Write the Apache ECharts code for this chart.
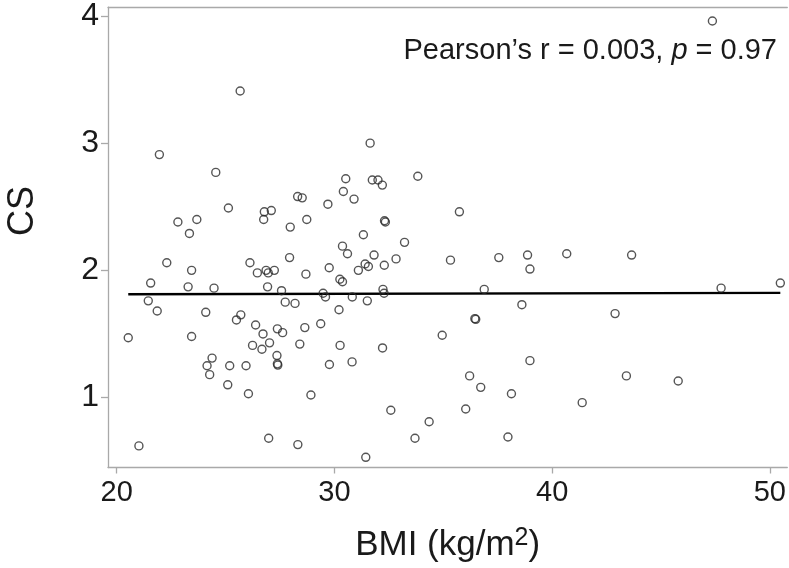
<!DOCTYPE html>
<html>
<head>
<meta charset="utf-8">
<script src="https://cdn.jsdelivr.net/npm/echarts@6/dist/echarts.min.js"></script>
<style>
html,body{margin:0;padding:0;background:#fff;}
#chart{width:789px;height:568px;}
</style>
</head>
<body>
<div id="chart"></div>
<script>
// BMI (kg/m2) values
const bmi = [
  25.67, 21.96, 24.55, 30.52, 30.41, 22.81, 23.68, 23.34, 25.13, 26.75,
  26.78, 27.10, 27.97, 28.31, 28.52, 28.73, 29.70,
  31.64, 30.90, 31.74, 32.00, 32.20, 33.83, 35.74, 32.30, 32.34, 31.33,
  33.22, 47.36,
  30.37, 30.60, 22.30, 23.44, 26.12, 26.46, 26.86, 26.96, 27.24, 27.94,
  28.69, 29.76, 30.25, 30.37, 21.56, 23.28, 24.47, 26.93, 27.57, 29.48,
  29.59, 21.45, 21.86, 27.74, 28.19, 24.09, 25.70, 25.50, 30.21, 20.53,
  23.44, 26.38, 26.72, 27.38, 27.62, 28.64, 29.37, 27.02, 26.24, 26.67,
  28.41, 30.26, 24.38, 24.15, 25.19, 25.94, 27.36, 27.38, 27.40, 24.27,
  29.77, 25.10, 26.05, 28.92, 26.98, 28.32, 21.02,
  31.82, 31.41, 31.56, 32.29, 32.83, 35.33, 37.55, 38.87, 38.98, 40.67,
  31.10, 32.23, 32.28, 36.88, 30.82, 31.51, 38.61, 36.45, 36.49, 34.95,
  32.21, 30.81, 38.98, 36.21, 36.72, 38.13, 32.59, 36.03, 34.35, 33.70,
  37.97, 31.44,
  43.65, 47.76, 50.48, 42.89, 43.41, 45.79, 41.38
];
// CS values (same order)
const cs = [
  3.41, 2.91, 2.77, 2.72, 2.62, 2.38, 2.40, 2.29, 2.49, 2.40,
  2.46, 2.47, 2.34, 2.58, 2.57, 2.40, 2.52,
  3.00, 2.56, 2.71, 2.71, 2.67, 2.74, 2.46, 2.39, 2.38, 2.28,
  2.22, 3.96,
  2.19, 2.13, 2.06, 2.00, 2.06, 1.98, 2.00, 1.98, 2.00, 2.10,
  1.97, 2.02, 1.93, 1.91, 1.90, 1.87, 1.86, 1.87, 1.84, 1.82,
  1.79, 1.76, 1.68, 1.75, 1.74, 1.67, 1.65, 1.61, 1.69, 1.47,
  1.48, 1.57, 1.50, 1.54, 1.51, 1.55, 1.58, 1.43, 1.41, 1.38,
  1.42, 1.41, 1.31, 1.25, 1.25, 1.25, 1.33, 1.265, 1.255, 1.18,
  1.26, 1.10, 1.03, 1.02, 0.68, 0.63, 0.62,
  2.12, 2.05, 2.03, 2.04, 2.09, 2.08, 2.10, 2.12, 2.01, 2.13,
  2.00, 1.85, 1.82, 1.85, 1.79, 1.76, 1.73, 1.62, 1.615, 1.49,
  1.39, 1.28, 1.29, 1.17, 1.08, 1.03, 0.90, 0.91, 0.81, 0.68,
  0.69, 0.53,
  2.12, 1.86, 1.90, 1.66, 1.17, 1.13, 0.96
];
// fitted line end points
const fitX = [20.53, 50.48];
const fitY = [1.812, 1.823];
// tick labels
const xTicks = [20, 30, 40, 50];
const yTicks = [1, 2, 3, 4];

const FONT = '"Liberation Sans", Arial, Helvetica, sans-serif';
const TXT = '#1a1a1a';
const AX = '#a9a9a9';

const points = bmi.map((x, i) => [x, cs[i]]);
const fitLine = fitX.map((x, i) => [x, fitY[i]]);

const chart = echarts.init(document.getElementById('chart'), null, {renderer: 'canvas'});
chart.setOption({
  animation: false,
  backgroundColor: '#ffffff',
  grid: {left: 108, right: 0, top: 6, bottom: 97, containLabel: false},
  xAxis: [{
    type: 'value',
    min: 19.6, max: 50.8,
    splitLine: {show: false},
    axisLine: {show: true, onZero: false, lineStyle: {color: AX, width: 1.3}},
    axisTick: {show: true, length: 6, customValues: xTicks, lineStyle: {color: AX, width: 1.3}},
    axisLabel: {customValues: xTicks, fontSize: 29, color: TXT, fontFamily: FONT, margin: 11},
    name: '{a|BMI (kg/m}{s|2}{a|)}',
    nameLocation: 'middle',
    nameGap: 58,
    nameTextStyle: {
      rich: {
        a: {fontSize: 35, fontFamily: FONT, color: TXT, lineHeight: 40},
        s: {fontSize: 25, fontFamily: FONT, color: TXT, verticalAlign: 'top', lineHeight: 24}
      }
    }
  }, {
    type: 'value', position: 'top',
    min: 19.6, max: 50.8,
    splitLine: {show: false},
    axisLine: {show: true, onZero: false, lineStyle: {color: AX, width: 1.3}},
    axisTick: {show: false},
    axisLabel: {show: false}
  }],
  yAxis: {
    type: 'value',
    min: 0.45, max: 4.07,
    splitLine: {show: false},
    axisLine: {show: true, onZero: false, lineStyle: {color: AX, width: 1.3}},
    axisTick: {show: true, length: 7, customValues: yTicks, lineStyle: {color: AX, width: 1.3}},
    axisLabel: {customValues: yTicks, fontSize: 32, color: TXT, fontFamily: FONT, margin: 9}
  },
  graphic: [
    {
      type: 'text', x: 23, y: 211, rotation: Math.PI / 2,
      style: {text: 'CS', fontSize: 36, fontFamily: FONT, fill: TXT, align: 'center', verticalAlign: 'middle'}
    },
    {
      type: 'text', x: 777, y: 51,
      style: {
        text: '{a|Pearson’s r = 0.003, }{i|p}{a| = 0.97}',
        align: 'right', verticalAlign: 'middle',
        rich: {
          a: {fontSize: 29, fontFamily: FONT, fill: TXT},
          i: {fontSize: 29, fontFamily: FONT, fill: TXT, fontStyle: 'italic'}
        }
      }
    }
  ],
  series: [
    {
      type: 'line',
      data: fitLine,
      symbol: 'none',
      lineStyle: {color: '#000', width: 2.4},
      z: 2
    },
    {
      type: 'scatter',
      data: points,
      symbol: 'circle',
      symbolSize: 8,
      itemStyle: {color: 'rgba(255,255,255,0)', borderColor: '#2a2a2a', borderWidth: 1.4},
      z: 3
    }
  ]
});
</script>
</body>
</html>
